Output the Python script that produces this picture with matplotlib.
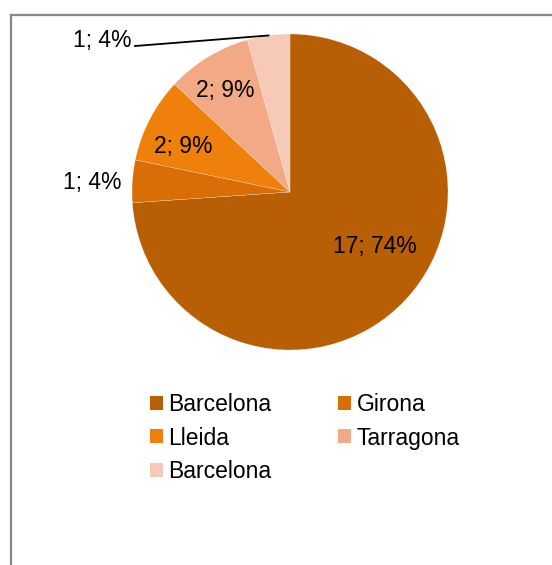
import numpy as np
import matplotlib.pyplot as plt
from matplotlib.patches import Rectangle
from matplotlib.lines import Line2D

plt.rcParams['font.family'] = ['Liberation Sans', 'DejaVu Sans']

# provincias y recuento
provincias = ['Barcelona', 'Girona', 'Lleida', 'Tarragona', 'Barcelona']
valores = [17, 1, 2, 2, 1]
colores = ['#B85E05', '#D96D06', '#EF800B', '#F3A985', '#F7C9B8']

# posicion de cada etiqueta (radio = 1)
etiqueta_xy = [(0.538, -0.342), (-1.25, 0.063), (-0.677, 0.285),
               (-0.411, 0.640), (-1.006, 0.962)]

W, H = 552, 565
cx, cy, R = 290, 192, 158

fig = plt.figure(figsize=(W / 100, H / 100), dpi=100)
ax = fig.add_axes([0, 0, 1, 1])

wedges, _ = ax.pie(valores, colors=colores, startangle=90, counterclock=False,
                   radius=1, wedgeprops=dict(edgecolor='white', linewidth=0.15))
ax.set_xlim(-cx / R, (W - cx) / R)
ax.set_ylim((cy - H) / R, cy / R)
ax.axis('off')

total = sum(valores)
for i, (v, (x, y)) in enumerate(zip(valores, etiqueta_xy)):
    txt = f'{v}; {round(100 * v / total)}%'
    ha = 'right' if i == 4 else 'center'
    ax.text(x, y, txt, ha=ha, va='center', fontsize=16.5, color='black')

# linea guia para la ultima porcion
w = wedges[4]
mid = np.deg2rad((w.theta1 + w.theta2) / 2)
ax.add_line(Line2D([-0.981, np.cos(mid)], [0.924, np.sin(mid)],
                   color='black', lw=1.3))

# leyenda por filas: reordenar para que matplotlib la llene por columnas
handles = [Rectangle((0, 0), 1, 1, facecolor=c) for c in colores]
orden = [0, 2, 4, 1, 3]
fig.legend([handles[i] for i in orden], [provincias[i] for i in orden],
           ncol=2, frameon=False, fontsize=16.5,
           loc='upper left', bbox_to_anchor=(150 / W, 1 - 393 / H),
           bbox_transform=fig.transFigure, borderpad=0, borderaxespad=0,
           handlelength=0.57, handleheight=0.57, handletextpad=0.22,
           columnspacing=2.93, labelspacing=0.46)

# marco del grafico
fig.add_artist(Line2D([11 / W, 11 / W], [0, 1 - 15 / H], color='#888888',
                      lw=1.6, transform=fig.transFigure))
fig.add_artist(Line2D([11 / W, 1], [1 - 15 / H, 1 - 15 / H], color='#888888',
                      lw=1.6, transform=fig.transFigure))

fig.savefig('out.png', dpi=100)
